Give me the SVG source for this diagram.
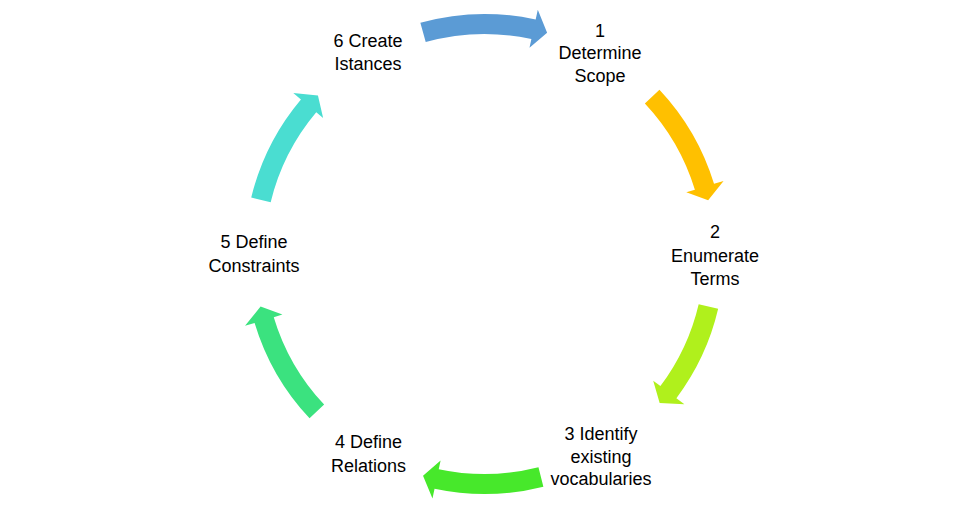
<svg xmlns="http://www.w3.org/2000/svg" xmlns:xlink="http://www.w3.org/1999/xlink" width="968" height="506" viewBox="0 0 968 506">
  <style>
    .lbl { font-family: "Liberation Sans", Arial, sans-serif; font-size: 18px; fill: #000000; text-anchor: middle; }
  </style>
  <defs>
    <path id="arr-313" d="M 0 -240 A 240 240 0 0 1 111.97 -212.28 L 116.64 -221.13 L 119.49 -196.53 L 98.44 -186.63 L 102.64 -194.59 A 220 220 0 0 0 0 -220 Z"/>
    <path id="arr-297" d="M 0 -240 A 240 240 0 0 1 106.00 -215.32 L 110.41 -224.30 L 113.96 -199.78 L 93.19 -189.31 L 97.16 -197.38 A 220 220 0 0 0 0 -220 Z"/>
    <path id="arr-272" d="M 0 -240 A 240 240 0 0 1 96.50 -219.74 L 100.52 -228.90 L 105.12 -204.57 L 84.84 -193.19 L 88.46 -201.43 A 220 220 0 0 0 0 -220 Z"/>
    <path id="arr-300" d="M 0 -240 A 240 240 0 0 1 107.12 -214.77 L 111.59 -223.72 L 115.00 -199.18 L 94.18 -188.82 L 98.20 -196.87 A 220 220 0 0 0 0 -220 Z"/>
  </defs>
  <rect width="968" height="506" fill="#ffffff"/>
  <g id="connectors">
    <use xlink:href="#arr-313" href="#arr-313" transform="translate(484.5 254) rotate(-15.5)" fill="#5B9BD5"/>
    <use xlink:href="#arr-297" href="#arr-297" transform="translate(484.5 254) rotate(46.8)" fill="#FFC000"/>
    <use xlink:href="#arr-272" href="#arr-272" transform="translate(484.5 254) rotate(103.2)" fill="#B0F01C"/>
    <use xlink:href="#arr-297" href="#arr-297" transform="translate(484.5 254) rotate(165.8)" fill="#47E82B"/>
    <use xlink:href="#arr-300" href="#arr-300" transform="translate(484.5 254) rotate(226.8)" fill="#3BE27F"/>
    <use xlink:href="#arr-300" href="#arr-300" transform="translate(484.5 254) rotate(283.6)" fill="#4ADDD1"/>
  </g>
  <g id="node1">
    <text class="lbl" x="600" y="36.5">1</text>
    <text class="lbl" x="600" y="59">Determine</text>
    <text class="lbl" x="600" y="81.7">Scope</text>
  </g>
  <g id="node2">
    <text class="lbl" x="715" y="238.3">2</text>
    <text class="lbl" x="715" y="261.7">Enumerate</text>
    <text class="lbl" x="715" y="285">Terms</text>
  </g>
  <g id="node3">
    <text class="lbl" x="601" y="440">3 Identify</text>
    <text class="lbl" x="601" y="462.5">existing</text>
    <text class="lbl" x="601" y="485">vocabularies</text>
  </g>
  <g id="node4">
    <text class="lbl" x="368.5" y="448.3">4 Define</text>
    <text class="lbl" x="368.5" y="471.7">Relations</text>
  </g>
  <g id="node5">
    <text class="lbl" x="254" y="248.3">5 Define</text>
    <text class="lbl" x="254" y="271.7">Constraints</text>
  </g>
  <g id="node6">
    <text class="lbl" x="368" y="47.3">6 Create</text>
    <text class="lbl" x="368" y="70">Istances</text>
  </g>
</svg>
